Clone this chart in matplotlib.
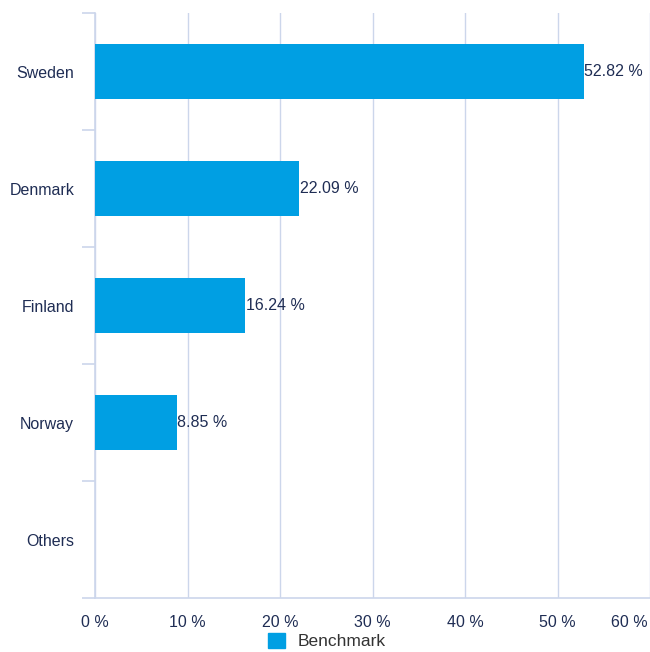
import matplotlib
matplotlib.use('Agg')
from matplotlib import pyplot as plt
from matplotlib.patches import Patch
import matplotlib.transforms as mtransforms
import numpy as np

# values (Others has no bar)
countries = ['Sweden', 'Denmark', 'Finland', 'Norway', 'Others']
benchmark = [52.82, 22.09, 16.24, 8.85, np.nan]
xticks = [0, 10, 20, 30, 40, 50, 60]

bar_col = '#009fe3'
grid_col = '#ccd6eb'
txt_col = '#1f2d54'
fs = 11.5

plt.rcParams['font.family'] = ['Liberation Sans', 'DejaVu Sans']

fig = plt.figure(figsize=(6.5, 6.52), dpi=100)
ax = fig.add_axes([0.1462, 0.0828, 0.8538, 0.8972])

ypos = np.arange(len(countries))
vals = np.nan_to_num(np.array(benchmark, dtype=float))
ax.barh(ypos, vals, height=0.47, color=bar_col, zorder=3)
for y, v in zip(ypos, benchmark):
    if not np.isnan(v):
        ax.text(v + 0.05, y, '%.2f %%' % v, va='center', ha='left',
                fontsize=fs, color=txt_col, zorder=4)

ax.set_xlim(0, 60)
ax.set_ylim(len(countries) - 0.5, -0.5)
ax.set_xticks(xticks)
ax.set_xticklabels(['%d %%' % t for t in xticks])
ax.set_yticks(ypos)
ax.set_yticklabels(countries)
ax.set_yticks(np.arange(-0.5, len(countries)), minor=True)

ax.tick_params(axis='x', length=0, pad=12, labelsize=fs, labelcolor=txt_col)
ax.tick_params(axis='y', which='major', length=0, pad=15, labelsize=fs, labelcolor=txt_col)
ax.tick_params(axis='y', which='minor', length=9.5, width=1.2, color=grid_col)

ax.grid(axis='x', color=grid_col, linewidth=1, zorder=0)
for s in ['top', 'right']:
    ax.spines[s].set_visible(False)
for s in ['left', 'bottom']:
    ax.spines[s].set_color(grid_col)
    ax.spines[s].set_linewidth(1.2)

# shift last label left so it fits in the figure
offset = mtransforms.ScaledTranslation(-0.02, 0, fig.dpi_scale_trans)
lab = ax.get_xticklabels()[-1]
lab.set_horizontalalignment('right')
lab.set_transform(lab.get_transform() + offset)

fig.legend(handles=[Patch(color=bar_col, label='Benchmark')], loc='lower center',
           bbox_to_anchor=(0.503, -0.02), frameon=False, fontsize=12.5,
           handlelength=1.0, handleheight=1.0, handletextpad=0.7, labelcolor='#333333')

fig.savefig('out.png', dpi=100)
